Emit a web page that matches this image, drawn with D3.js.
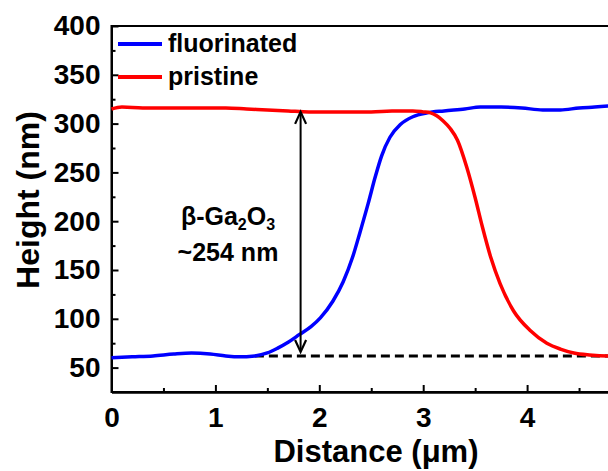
<!DOCTYPE html>
<html>
<head>
<meta charset="utf-8">
<script src="https://cdn.jsdelivr.net/npm/d3@7"></script>
<style>
  html, body { margin: 0; padding: 0; background: #fff; }
  svg { display: block; }
  text { font-family: "Liberation Sans", Arial, sans-serif; font-weight: bold; fill: #000; }
</style>
</head>
<body>
<svg id="chart" width="608" height="471"></svg>
<script>
// ---- data ----
const fluorX = [0, 0.2, 0.4, 0.6, 0.77, 0.95, 1.1, 1.22, 1.38, 1.5, 1.6, 1.7, 1.81, 1.92, 2.01, 2.13, 2.23, 2.32, 2.39, 2.47, 2.54, 2.6, 2.68, 2.78, 2.9, 3.04, 3.2, 3.4, 3.55, 3.75, 3.95, 4.15, 4.32, 4.5, 4.65, 4.78, 4.95];
const fluorY = [60, 61, 62, 64, 65, 64, 62, 61, 62, 65, 70, 76, 84, 92, 101, 118, 138, 163, 188, 218, 246, 267, 286, 299, 307, 311, 313, 315, 317, 317, 316, 314, 314, 316, 317, 318, 319];
const pristX = [0, 0.1, 0.3, 0.5, 0.7, 0.9, 1.1, 1.3, 1.5, 1.7, 1.9, 2.1, 2.3, 2.5, 2.7, 2.9, 3.0, 3.07, 3.13, 3.19, 3.26, 3.33, 3.42, 3.5, 3.57, 3.65, 3.74, 3.87, 4.03, 4.19, 4.32, 4.45, 4.6, 4.78, 4.95];
const pristY = [315, 317, 316, 316, 316, 316, 316, 315, 314, 313, 312, 312, 312, 312, 313, 313, 312, 311, 308, 303, 295, 283, 255, 224, 194, 163, 136, 108, 88, 75, 69, 65, 63, 62, 62];
const xTicks = [0, 1, 2, 3, 4];
const xMinor = [0.5, 1.5, 2.5, 3.5, 4.5];
const yTicks = [50, 100, 150, 200, 250, 300, 350, 400];
const yMinor = [75, 125, 175, 225, 275, 325, 375];
const seriesNames = ["fluorinated", "pristine"];
const seriesColors = ["#0000ff", "#ff0000"];
const arrowX = 1.82, arrowTop = 312, arrowBottom = 66;
const dashX0 = 1.38, dashX1 = 5, dashY = 62;
const annoLine1 = ["β-Ga", "2", "O", "3"];
const annoLine2 = "~254 nm";

// ---- layout ----
const svg = d3.select("#chart");
const L = 111.5, R = 631, T = 26, B = 392;
const x = d3.scaleLinear().domain([0, 5]).range([L, R]);
const y = d3.scaleLinear().domain([25, 400]).range([B, T]);

svg.append("rect").attr("width", 608).attr("height", 471).attr("fill", "#fff");

// frame
svg.append("rect").attr("x", L).attr("y", T).attr("width", R - L).attr("height", B - T)
  .attr("fill", "none").attr("stroke", "#000").attr("stroke-width", 2);

// axes
const gx = svg.append("g").attr("transform", `translate(0,${B})`)
  .call(d3.axisBottom(x).tickValues(xTicks).tickSizeInner(-7).tickSizeOuter(0).tickPadding(15).tickFormat(d3.format("d")));
const gxm = svg.append("g").attr("transform", `translate(0,${B})`)
  .call(d3.axisBottom(x).tickValues(xMinor).tickSizeInner(-4).tickSizeOuter(0).tickFormat(""));
const gy = svg.append("g").attr("transform", `translate(${L},0)`)
  .call(d3.axisLeft(y).tickValues(yTicks).tickSizeInner(-7).tickSizeOuter(0).tickPadding(11).tickFormat(d3.format("d")));
const gym = svg.append("g").attr("transform", `translate(${L},0)`)
  .call(d3.axisLeft(y).tickValues(yMinor).tickSizeInner(-4).tickSizeOuter(0).tickFormat(""));
[gx, gxm, gy, gym].forEach(g => {
  g.selectAll("path.domain").attr("stroke", "#000").attr("stroke-width", 2);
  g.selectAll(".tick line").attr("stroke", "#000").attr("stroke-width", 2);
  g.selectAll(".tick text").attr("font-size", 28).attr("font-family", "Liberation Sans, Arial, sans-serif").attr("font-weight", "bold").attr("fill", "#000");
});

// axis titles
svg.append("text").attr("x", 376).attr("y", 462).attr("text-anchor", "middle").attr("font-size", 31).text("Distance (μm)");
svg.append("text").attr("transform", "translate(39,200) rotate(-90)").attr("text-anchor", "middle").attr("font-size", 32).text("Height (nm)");

// dashed baseline
svg.append("line").attr("x1", x(dashX0)).attr("x2", x(dashX1)).attr("y1", y(dashY)).attr("y2", y(dashY))
  .attr("stroke", "#000").attr("stroke-width", 3).attr("stroke-dasharray", "9,5");

// lines
const line = d3.line().x(d => x(d[0])).y(d => y(d[1])).curve(d3.curveMonotoneX);
const fluor = fluorX.map((v, i) => [v, fluorY[i]]);
const prist = pristX.map((v, i) => [v, pristY[i]]);
svg.append("path").datum(fluor).attr("d", line).attr("fill", "none").attr("stroke", seriesColors[0]).attr("stroke-width", 3.5);
svg.append("path").datum(prist).attr("d", line).attr("fill", "none").attr("stroke", seriesColors[1]).attr("stroke-width", 3.5);

// double arrow
const ax = x(arrowX), ay1 = y(arrowTop), ay2 = y(arrowBottom);
svg.append("line").attr("x1", ax).attr("x2", ax).attr("y1", ay1 + 1).attr("y2", ay2 - 1).attr("stroke", "#000").attr("stroke-width", 2);
svg.append("path").attr("d", `M${ax - 5.5},${ay1 + 12} L${ax},${ay1} L${ax + 5.5},${ay1 + 12}`).attr("fill", "none").attr("stroke", "#000").attr("stroke-width", 2.2);
svg.append("path").attr("d", `M${ax - 5.5},${ay2 - 12} L${ax},${ay2} L${ax + 5.5},${ay2 - 12}`).attr("fill", "none").attr("stroke", "#000").attr("stroke-width", 2.2);

// annotation
const t1 = svg.append("text").attr("x", 228).attr("y", 225).attr("text-anchor", "middle").attr("font-size", 25);
t1.append("tspan").text(annoLine1[0]);
t1.append("tspan").attr("font-size", 16).attr("dy", 5).text(annoLine1[1]);
t1.append("tspan").attr("dy", -5).text(annoLine1[2]);
t1.append("tspan").attr("font-size", 16).attr("dy", 5).text(annoLine1[3]);
svg.append("text").attr("x", 228).attr("y", 261).attr("text-anchor", "middle").attr("font-size", 25).text(annoLine2);

// legend
const legY = [44, 77];
seriesNames.forEach((n, i) => {
  svg.append("line").attr("x1", 118).attr("x2", 162).attr("y1", legY[i]).attr("y2", legY[i])
    .attr("stroke", seriesColors[i]).attr("stroke-width", 4);
  svg.append("text").attr("x", 168).attr("y", legY[i] + 8).attr("font-size", 25).text(n);
});
</script>
</body>
</html>
